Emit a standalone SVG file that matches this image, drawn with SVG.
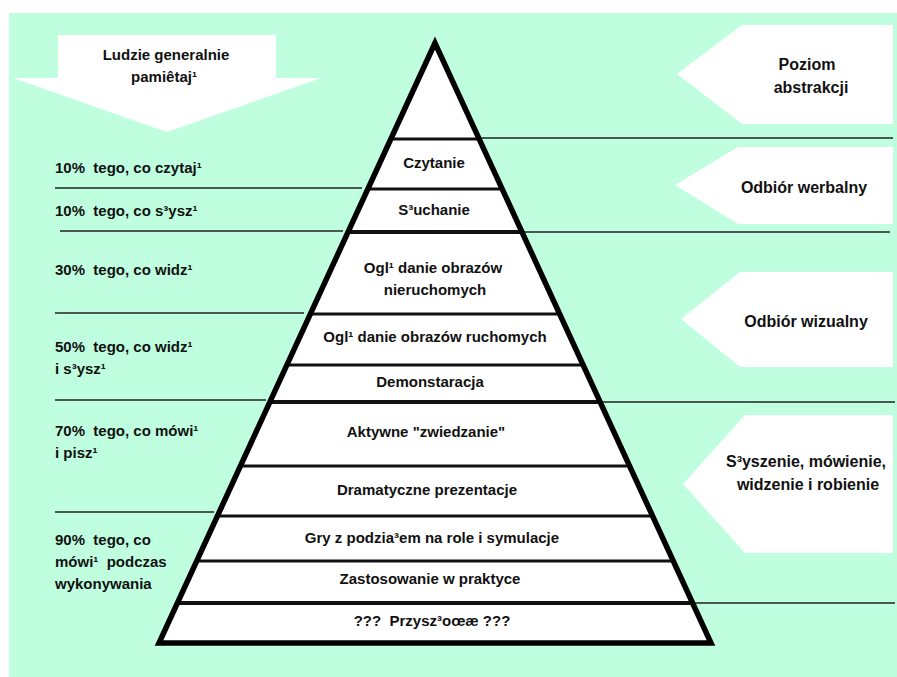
<svg xmlns="http://www.w3.org/2000/svg" width="897" height="677" viewBox="0 0 897 677">
<style>
text{font-family:"Liberation Sans",Arial,sans-serif;font-weight:bold;fill:#111;white-space:pre;}
.lbl{font-size:15px;}
.side{font-size:16px;}
.mid{text-anchor:middle;}
.tier{stroke:#111;stroke-width:3;}
.tierb{stroke:#111;stroke-width:4;}
.ext{stroke:#222;stroke-width:1.3;}
.arrow{fill:#fff;stroke:none;}
</style>
<rect x="9" y="13" width="888" height="664" fill="#BFFFDF"/>
<g id="arrow-remember">
<polygon class="arrow" points="58,35 276,35 276,78 321,78 167,132 13,78 58,78"/>
<text class="lbl mid" x="166" y="60">Ludzie generalnie</text>
<text class="lbl mid" x="164" y="82">pamiêtaj¹</text>
</g>
<g id="arrow-abstraction">
<polygon class="arrow" points="677,74 742,25 893,25 893,124 742,124"/>
<text class="side mid" x="807" y="70">Poziom</text>
<text class="side mid" x="811" y="93">abstrakcji</text>
</g>
<g id="arrow-verbal">
<polygon class="arrow" points="675,185 738,147 893,147 893,224 738,224"/>
<text class="side mid" x="804" y="193">Odbiór werbalny</text>
</g>
<g id="arrow-visual">
<polygon class="arrow" points="681,319 740,272 893,272 893,367 740,367"/>
<text class="side mid" x="806" y="327">Odbiór wizualny</text>
</g>
<g id="arrow-doing">
<polygon class="arrow" points="683,484 745,415 893,415 893,553 745,553"/>
<text class="side mid" x="806" y="467">S³yszenie, mówienie,</text>
<text class="side mid" x="808" y="490">widzenie i robienie</text>
</g>
<g id="connectors">
<line class="ext" x1="479" y1="138" x2="893" y2="138"/>
<line class="ext" x1="522" y1="232" x2="890" y2="232"/>
<line class="ext" x1="600" y1="402" x2="895" y2="402"/>
<line class="ext" x1="693" y1="603" x2="895" y2="603"/>
<line class="ext" x1="55" y1="188" x2="362" y2="188"/>
<line class="ext" x1="60" y1="231" x2="343" y2="231"/>
<line class="ext" x1="55" y1="313" x2="304" y2="313"/>
<line class="ext" x1="55" y1="400" x2="266" y2="400"/>
<line class="ext" x1="55" y1="512" x2="214" y2="512"/>
</g>
<g id="pyramid">
<polygon points="435,43 159,643 711,643" fill="#fff"/>
<line class="tier" x1="391" y1="139" x2="479" y2="139"/>
<line class="tier" x1="368" y1="189" x2="502" y2="189"/>
<line class="tierb" x1="348" y1="232" x2="522" y2="232"/>
<line class="tier" x1="310" y1="314" x2="560" y2="314"/>
<line class="tier" x1="287" y1="365" x2="583" y2="365"/>
<line class="tierb" x1="270" y1="402" x2="600" y2="402"/>
<line class="tier" x1="240" y1="466" x2="630" y2="466"/>
<line class="tier" x1="217" y1="516" x2="653" y2="516"/>
<line class="tier" x1="197" y1="561" x2="673" y2="561"/>
<line class="tierb" x1="177" y1="603" x2="693" y2="603"/>
<polygon points="435,43 159,643 711,643" fill="none" stroke="#000" stroke-width="5.5" stroke-linejoin="miter"/>
</g>
<g id="tier-czytanie"><text class="lbl mid" x="434" y="168">Czytanie</text></g>
<g id="tier-sluchanie"><text class="lbl mid" x="434" y="215">S³uchanie</text></g>
<g id="tier-nieruchome"><text class="lbl mid" x="433" y="273">Ogl¹ danie obrazów</text><text class="lbl mid" x="435" y="295">nieruchomych</text></g>
<g id="tier-ruchome"><text class="lbl mid" x="435" y="342">Ogl¹ danie obrazów ruchomych</text></g>
<g id="tier-demo"><text class="lbl mid" x="430" y="387">Demonstaracja</text></g>
<g id="tier-aktywne"><text class="lbl mid" x="426" y="437">Aktywne "zwiedzanie"</text></g>
<g id="tier-dramat"><text class="lbl mid" x="427" y="495">Dramatyczne prezentacje</text></g>
<g id="tier-gry"><text class="lbl mid" x="432" y="543">Gry z podzia³em na role i symulacje</text></g>
<g id="tier-praktyka"><text class="lbl mid" x="430" y="584">Zastosowanie w praktyce</text></g>
<g id="tier-przyszlosc"><text class="lbl mid" x="432" y="626">???  Przysz³oœæ ???</text></g>
<g id="left-labels">
<text class="lbl" x="55" y="173">10%  tego, co czytaj¹</text>
<text class="lbl" x="55" y="216">10%  tego, co s³ysz¹</text>
<text class="lbl" x="55" y="275">30%  tego, co widz¹</text>
<text class="lbl" x="55" y="352">50%  tego, co widz¹</text>
<text class="lbl" x="55" y="374">i s³ysz¹</text>
<text class="lbl" x="55" y="436">70%  tego, co mówi¹</text>
<text class="lbl" x="55" y="458">i pisz¹</text>
<text class="lbl" x="55" y="545">90%  tego, co</text>
<text class="lbl" x="55" y="567">mówi¹  podczas</text>
<text class="lbl" x="55" y="589">wykonywania</text>
</g>
</svg>
